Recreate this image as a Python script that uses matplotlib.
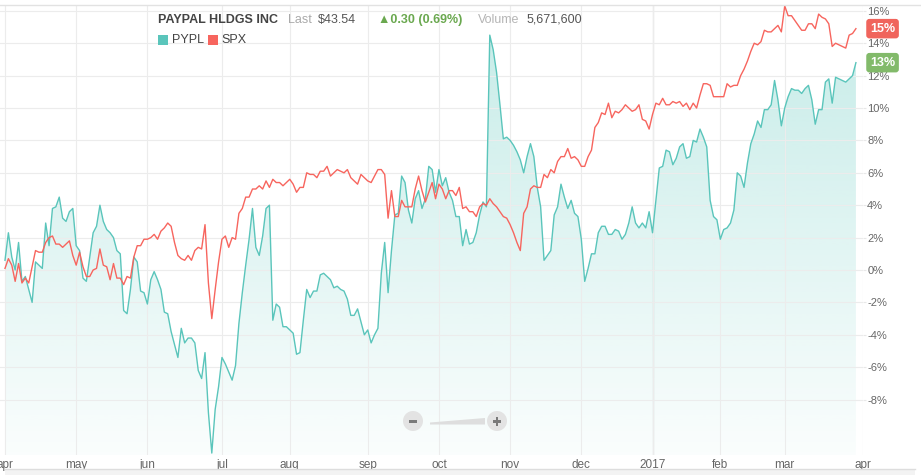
import numpy as np
import pandas as pd
import matplotlib.pyplot as plt
from matplotlib.patches import Rectangle, Circle, Polygon

plt.rcParams['font.family'] = ['Liberation Sans', 'DejaVu Sans']

# trading days, Apr 1 2016 .. Apr 3 2017 (NYSE holidays removed)
holidays = ['2016-05-30', '2016-07-04', '2016-09-05', '2016-11-24',
            '2016-12-26', '2017-01-02', '2017-01-16', '2017-02-20']
days = pd.bdate_range('2016-04-01', '2017-04-03')
days = days[~days.isin(pd.to_datetime(holidays))]

month_labels = ['apr', 'may', 'jun', 'jul', 'aug', 'sep', 'oct', 'nov',
                'dec', '2017', 'feb', 'mar', 'apr']

# % change since start, one value per trading day
pypl = [0.6, 2.3, 0.8, 0.0, 1.7, -0.7, -0.4, -1.2, -2.0, 0.5,
        0.3, 0.1, 2.9, 1.5, 3.8, 3.9, 4.5, 3.2, 3.0, 3.6,
        3.8, 1.5, 1.2, -0.5, -0.7, 0.8, 2.3, 2.7, 4.0, 3.0,
        2.5, 2.3, 2.0, 1.2, 1.0, -2.5, -2.7, -1.2, 0.8, 0.5,
        -1.3, -1.4, -2.1, -0.6, -0.1, -0.6, -1.2, -2.6, -2.7, -3.8,
        -4.6, -5.4, -3.6, -4.5, -4.2, -4.2, -4.5, -6.2, -6.7, -5.1,
        -8.8, -11.3, -8.6, -7.2, -5.4, -5.8, -6.3, -6.8, -5.9, -3.3,
        -1.4, 0.3, 1.9, 3.8, 1.4, 0.9, 2.1, 3.8, 4.0, -3.1,
        -2.1, -2.3, -3.5, -3.5, -3.7, -3.9, -5.2, -5.1, -3.1, -1.2,
        -1.7, -1.3, -1.3, -0.3, -0.2, -0.4, -0.6, -1.1, -1.0, -1.2,
        -1.3, -1.8, -2.8, -2.8, -2.4, -3.2, -4.0, -3.7, -4.5, -4.0,
        -3.6, -0.2, 1.7, -1.4, 1.2, 3.4, 3.5, 5.8, 5.4, 3.7,
        2.9, 4.4, 4.9, 3.8, 4.4, 6.4, 6.2, 4.8, 6.2, 5.2,
        5.7, 4.8, 4.3, 3.3, 3.3, 1.5, 2.5, 1.6, 1.7, 2.3,
        3.4, 4.2, 3.9, 14.5, 13.6, 12.2, 10.2, 8.1, 8.2, 8.0,
        7.7, 7.3, 6.8, 6.0, 7.0, 7.8, 7.0, 5.1, 3.9, 0.6,
        0.9, 1.2, 3.4, 3.9, 5.3, 4.5, 3.8, 4.3, 3.5, 3.3,
        1.9, -0.7, 0.1, 1.0, 1.0, 2.3, 2.7, 2.7, 2.2, 2.2,
        2.5, 2.4, 1.9, 2.2, 2.9, 3.9, 2.9, 2.6, 2.9, 2.6,
        3.6, 2.3, 4.3, 6.3, 6.4, 7.4, 7.3, 6.5, 6.9, 7.6,
        7.8, 6.9, 7.0, 8.0, 7.9, 8.7, 8.2, 7.6, 4.3, 3.3,
        3.1, 1.9, 2.5, 2.6, 2.9, 3.7, 6.0, 5.8, 5.1, 6.6,
        7.8, 8.4, 9.2, 8.8, 9.9, 9.9, 10.2, 11.7, 10.5, 8.9,
        10.0, 10.7, 11.2, 11.1, 11.1, 10.9, 11.2, 11.4, 10.5, 9.0,
        9.9, 9.9, 11.6, 11.8, 10.3, 11.9, 11.8, 11.7, 11.6, 11.8,
        12.0, 12.8]

spx = [0.1, 0.7, 0.3, -0.7, 0.4, -0.8, -0.5, -0.8, 0.2, 1.2,
       1.1, 1.1, 1.7, 2.0, 2.1, 1.6, 1.6, 1.4, 1.6, 1.8,
       0.9, 0.3, 1.1, 0.2, -0.4, -0.4, 0.0, 0.1, 1.3, 0.3,
       0.2, -0.6, 0.4, -0.5, -0.5, -0.9, -0.4, -0.5, 0.8, 1.5,
       1.5, 1.9, 1.9, 2.0, 2.2, 1.9, 2.4, 2.6, 2.9, 2.7,
       1.7, 0.9, 0.7, 0.6, 0.9, 0.6, 1.2, 1.4, 1.3, 2.8,
       -0.8, -3.0, -1.2, 0.5, 1.9, 2.1, 1.4, 2.0, 1.9, 3.5,
       3.8, 4.5, 4.5, 5.0, 5.0, 5.2, 5.0, 5.5, 5.1, 5.6,
       5.4, 5.4, 5.2, 5.4, 5.6, 5.3, 4.8, 5.1, 5.1, 6.0,
       5.9, 5.9, 5.7, 6.1, 6.1, 6.4, 5.8, 6.0, 6.2, 6.1,
       6.0, 6.2, 5.7, 5.5, 5.3, 5.9, 5.7, 5.5, 5.4, 5.8,
       6.2, 6.2, 5.9, 3.2, 4.9, 3.3, 3.3, 4.3, 3.9, 3.9,
       3.9, 5.0, 5.8, 4.9, 4.2, 4.8, 5.4, 4.4, 5.3, 5.0,
       4.4, 4.9, 4.9, 4.6, 5.1, 3.8, 3.9, 3.6, 3.6, 3.3,
       3.9, 4.1, 4.0, 4.4, 4.1, 3.9, 3.6, 3.3, 3.2, 2.8,
       2.3, 1.7, 1.2, 3.5, 3.9, 5.0, 5.2, 5.1, 5.1, 5.9,
       5.7, 6.2, 6.0, 6.7, 7.0, 7.0, 7.5, 6.9, 7.0, 6.8,
       6.4, 6.4, 7.0, 7.4, 8.8, 9.1, 9.7, 9.6, 10.3, 9.4,
       9.8, 9.7, 9.9, 10.2, 10.0, 9.8, 9.9, 10.2, 9.3, 9.2,
       8.7, 9.6, 10.3, 10.2, 10.6, 10.2, 10.2, 10.4, 10.3, 10.4,
       10.1, 10.3, 9.9, 10.3, 10.0, 10.8, 11.5, 11.5, 11.4, 10.7,
       10.7, 10.7, 10.7, 11.5, 11.3, 11.4, 11.4, 12.0, 12.4, 12.9,
       13.5, 14.0, 13.9, 14.1, 14.8, 14.7, 14.7, 14.9, 15.1, 14.7,
       16.3, 15.7, 15.7, 15.4, 15.1, 14.8, 14.8, 15.2, 15.2, 14.9,
       15.8, 15.6, 15.5, 15.2, 13.8, 14.0, 13.9, 13.8, 13.7, 14.5,
       14.6, 14.9]

teal = '#5ac5bb'
red = '#f7655e'

W, H = 921, 475
fig = plt.figure(figsize=(W / 100, H / 100), dpi=100)
ax = fig.add_axes([0, 20 / H, 862.7 / W, 450 / H])

x = np.arange(len(pypl))
ymin, ymax = -11.42, 16.36

# gradient fill under PYPL
grad = np.zeros((256, 1, 4))
grad[:, 0, :3] = np.array([94, 201, 190]) / 255
grad[:, 0, 3] = np.linspace(0.36, 0.03, 256)
fill = ax.fill_between(x, pypl, ymin, color='none', lw=0)
im = ax.imshow(grad, extent=[x[0], x[-1], ymin, ymax], aspect='auto',
               origin='upper', interpolation='bilinear', zorder=1)
im.set_clip_path(fill.get_paths()[0], transform=ax.transData)

ax.plot(x, pypl, color=teal, lw=1.0, zorder=3)
ax.plot(x, spx, color=red, lw=1.0, zorder=4)

ax.set_xlim(-1.475, 253)
ax.set_ylim(ymin, ymax)

# month ticks at first trading day of each month
tick_pos = [i for i in range(len(days)) if i == 0 or days[i].month != days[i - 1].month]
ax.set_xticks(tick_pos)
ax.set_xticklabels(month_labels)
yt = list(range(-8, 17, 2))
ax.set_yticks(yt)
ax.set_yticklabels([f'{v}%' for v in yt])
ax.yaxis.tick_right()
ax.tick_params(axis='x', length=0, pad=3, labelsize=8.5, labelcolor='#666666')
ax.tick_params(axis='y', length=2.2, color='#e8e8e8', pad=1, labelsize=8, labelcolor='#666666')
ax.grid(True, color='#ececec', lw=0.8, zorder=0)
ax.axvline(tick_pos[month_labels.index('2017')], color='#d3d3d3', lw=0.9, zorder=0.5)
for s in ax.spines.values():
    s.set_visible(False)
ax.set_facecolor('none')

# last-value badges
for vals, col in [(spx, '#f0645c'), (pypl, '#82ba6a')]:
    ax.annotate(f'{round(vals[-1])}%', xy=(870, vals[-1]),
                xycoords=('figure pixels', 'data'), va='center', ha='left',
                fontsize=9, fontweight='bold', color='white', annotation_clip=False,
                bbox=dict(boxstyle='round,pad=0.3,rounding_size=0.25', fc=col, ec='none'))

# overlay in pixel coordinates for header, legend, zoom control
ov = fig.add_axes([0, 0, 1, 1], zorder=5)
ov.set_xlim(0, W)
ov.set_ylim(H, 0)
ov.axis('off')

ov.plot([0, W], [5, 5], color='#e2e2e2', lw=1)
ov.add_patch(Rectangle((5, 469), 910, 6, color='#f3f3f3', lw=0))
ov.plot([5, 915], [469, 469], color='#dddddd', lw=1)

ov.text(158, 20, 'PAYPAL HLDGS INC', fontsize=9, fontweight='bold', color='#444444', va='center')
ov.text(288, 20, 'Last', fontsize=9, color='#aaaaaa', va='center')
ov.text(318, 20, r'\$43.54', fontsize=9, color='#555555', va='center')
ov.text(378, 20, '▲0.30 (0.69%)', fontsize=9, fontweight='bold', color='#6aa84f', va='center')
ov.text(478, 20, 'Volume', fontsize=9, color='#b5b5b5', va='center')
ov.text(527, 20, '5,671,600', fontsize=9, color='#555555', va='center')

ov.add_patch(Rectangle((158, 34.5), 10, 10, color=teal, lw=0))
ov.text(172, 40, 'PYPL', fontsize=9, color='#444444', va='center')
ov.add_patch(Rectangle((208, 34.5), 10, 10, color=red, lw=0))
ov.text(221, 40, 'SPX', fontsize=9, color='#444444', va='center')

# zoom control
ov.add_patch(Circle((413, 421), 10, color='#e3e3e3', lw=0))
ov.add_patch(Rectangle((409, 420), 8, 2.5, color='#7a7a7a', lw=0))
ov.add_patch(Polygon([(430, 424.5), (485, 424.5), (485, 418), (430, 422.5)],
                     closed=True, color='#dedede', lw=0))
ov.add_patch(Circle((497, 421), 10, color='#e3e3e3', lw=0))
ov.add_patch(Rectangle((493, 420), 8, 2.5, color='#7a7a7a', lw=0))
ov.add_patch(Rectangle((495.75, 417), 2.5, 8.5, color='#7a7a7a', lw=0))

fig.savefig('out.png', dpi=100)
